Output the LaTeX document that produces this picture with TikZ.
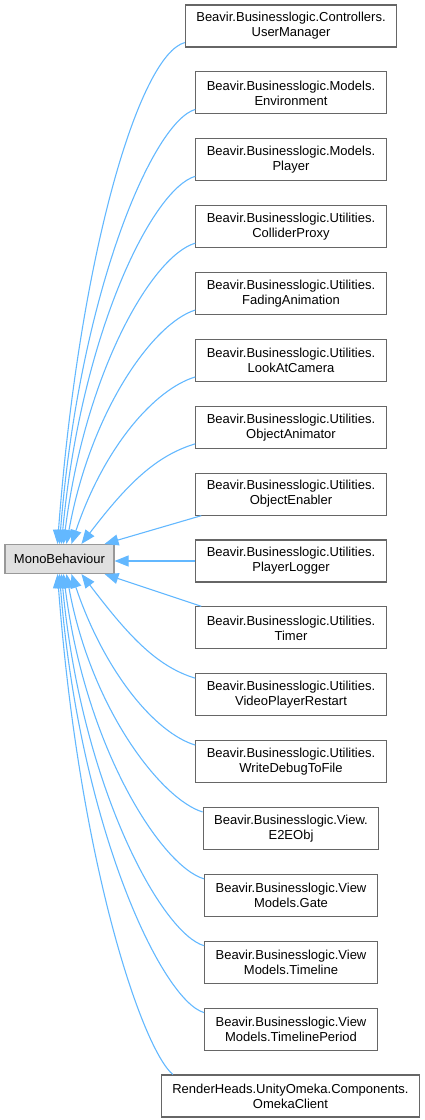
\documentclass[tikz,border=0pt]{standalone}
\usepackage{fontspec}
\setmainfont{Liberation Sans}
\usetikzlibrary{arrows.meta,calc}
\definecolor{edgecol}{HTML}{63B8FF}
\definecolor{boxline}{HTML}{666666}
\definecolor{monoline}{HTML}{999999}
\definecolor{monofill}{HTML}{E0E0E0}
\tikzset{
  cls/.style={draw=boxline, line width=1.1pt, fill=white, minimum height=42pt, inner xsep=11pt, inner ysep=2pt, align=center, font=\fontsize{13}{15}\selectfont},
  monobox/.style={draw=monoline, line width=1.1pt, fill=monofill, minimum width=109pt, minimum height=29pt, inner sep=0pt, font=\fontsize{13}{15}\selectfont},
  edge/.style={draw=edgecol, line width=1.1pt, -{Triangle[length=14pt,width=11pt]}}
}
\begin{document}
\begin{tikzpicture}[x=1pt,y=-1pt]
\useasboundingbox (0,0) rectangle (424,1120);
\node[monobox] (mono) at (59.5,559) {MonoBehaviour};
\node[cls] (b1) at (291,26) {Beavir.Businesslogic.Controllers.\\UserManager};
\node[cls] (b2) at (291,92.875) {Beavir.Businesslogic.Models.\\Environment};
\node[cls] (b3) at (291,159.75) {Beavir.Businesslogic.Models.\\Player};
\node[cls] (b4) at (291,226.625) {Beavir.Businesslogic.Utilities.\\ColliderProxy};
\node[cls] (b5) at (291,293.5) {Beavir.Businesslogic.Utilities.\\FadingAnimation};
\node[cls] (b6) at (291,360.375) {Beavir.Businesslogic.Utilities.\\LookAtCamera};
\node[cls] (b7) at (291,427.25) {Beavir.Businesslogic.Utilities.\\ObjectAnimator};
\node[cls] (b8) at (291,494.125) {Beavir.Businesslogic.Utilities.\\ObjectEnabler};
\node[cls] (b9) at (291,561) {Beavir.Businesslogic.Utilities.\\PlayerLogger};
\node[cls] (b10) at (291,627.875) {Beavir.Businesslogic.Utilities.\\Timer};
\node[cls] (b11) at (291,694.75) {Beavir.Businesslogic.Utilities.\\VideoPlayerRestart};
\node[cls] (b12) at (291,761.625) {Beavir.Businesslogic.Utilities.\\WriteDebugToFile};
\node[cls] (b13) at (291,828.5) {Beavir.Businesslogic.View.\\E2EObj};
\node[cls] (b14) at (291,895.375) {Beavir.Businesslogic.View\\Models.Gate};
\node[cls] (b15) at (291,962.25) {Beavir.Businesslogic.View\\Models.Timeline};
\node[cls] (b16) at (291,1029.125) {Beavir.Businesslogic.View\\Models.TimelinePeriod};
\node[cls] (b17) at (290.5,1096) {RenderHeads.UnityOmeka.Components.\\OmekaClient};
% upper edges
\draw[edge] ($(b1.south west)+(0,-5)$) .. controls +(-45,12) and +(22,-292) .. ($(mono.north west)+(53,0)$);
\draw[edge] ($(b2.south west)+(0,-5)$) .. controls +(-42,12) and +(20,-253) .. ($(mono.north west)+(55,0)$);
\draw[edge] ($(b3.south west)+(0,-5)$) .. controls +(-42,12) and +(20,-214) .. ($(mono.north west)+(57,0)$);
\draw[edge] ($(b4.south west)+(0,-5)$) .. controls +(-42,12) and +(22,-175) .. ($(mono.north west)+(59,0)$);
\draw[edge] ($(b5.south west)+(0,-5)$) .. controls +(-40,12) and +(25,-137) .. ($(mono.north west)+(62,0)$);
\draw[edge] ($(b6.south west)+(0,-5)$) .. controls +(-40,12) and +(33,-98) .. ($(mono.north west)+(67,0)$);
\draw[edge] ($(b7.south west)+(0,-5)$) .. controls +(-40,12) and +(45,-59) .. ($(mono.north west)+(77,0)$);
% middle edges
\draw[edge] ($(b8.south west)+(6,0)$) -- ($(mono.north east)+(-10,0)$);
\draw[edge] (b9.west) -- (mono.east |- b9.west);
\draw[edge] ($(b10.north west)+(6,0)$) -- ($(mono.south east)+(-10,0)$);
% lower edges
\draw[edge] ($(b11.north west)+(0,5)$) .. controls +(-40,-12) and +(45,59) .. ($(mono.south west)+(77,0)$);
\draw[edge] ($(b12.north west)+(0,5)$) .. controls +(-40,-12) and +(33,98) .. ($(mono.south west)+(67,0)$);
\draw[edge] ($(b13.north west)+(0,5)$) .. controls +(-40,-12) and +(25,137) .. ($(mono.south west)+(62,0)$);
\draw[edge] ($(b14.north west)+(0,5)$) .. controls +(-42,-12) and +(22,175) .. ($(mono.south west)+(59,0)$);
\draw[edge] ($(b15.north west)+(0,5)$) .. controls +(-42,-12) and +(20,214) .. ($(mono.south west)+(57,0)$);
\draw[edge] ($(b16.north west)+(0,5)$) .. controls +(-42,-12) and +(20,253) .. ($(mono.south west)+(55,0)$);
\draw[edge] ($(b17.north west)+(12,0)$) .. controls +(-30,-25) and +(22,292) .. ($(mono.south west)+(53,0)$);
\end{tikzpicture}
\end{document}
